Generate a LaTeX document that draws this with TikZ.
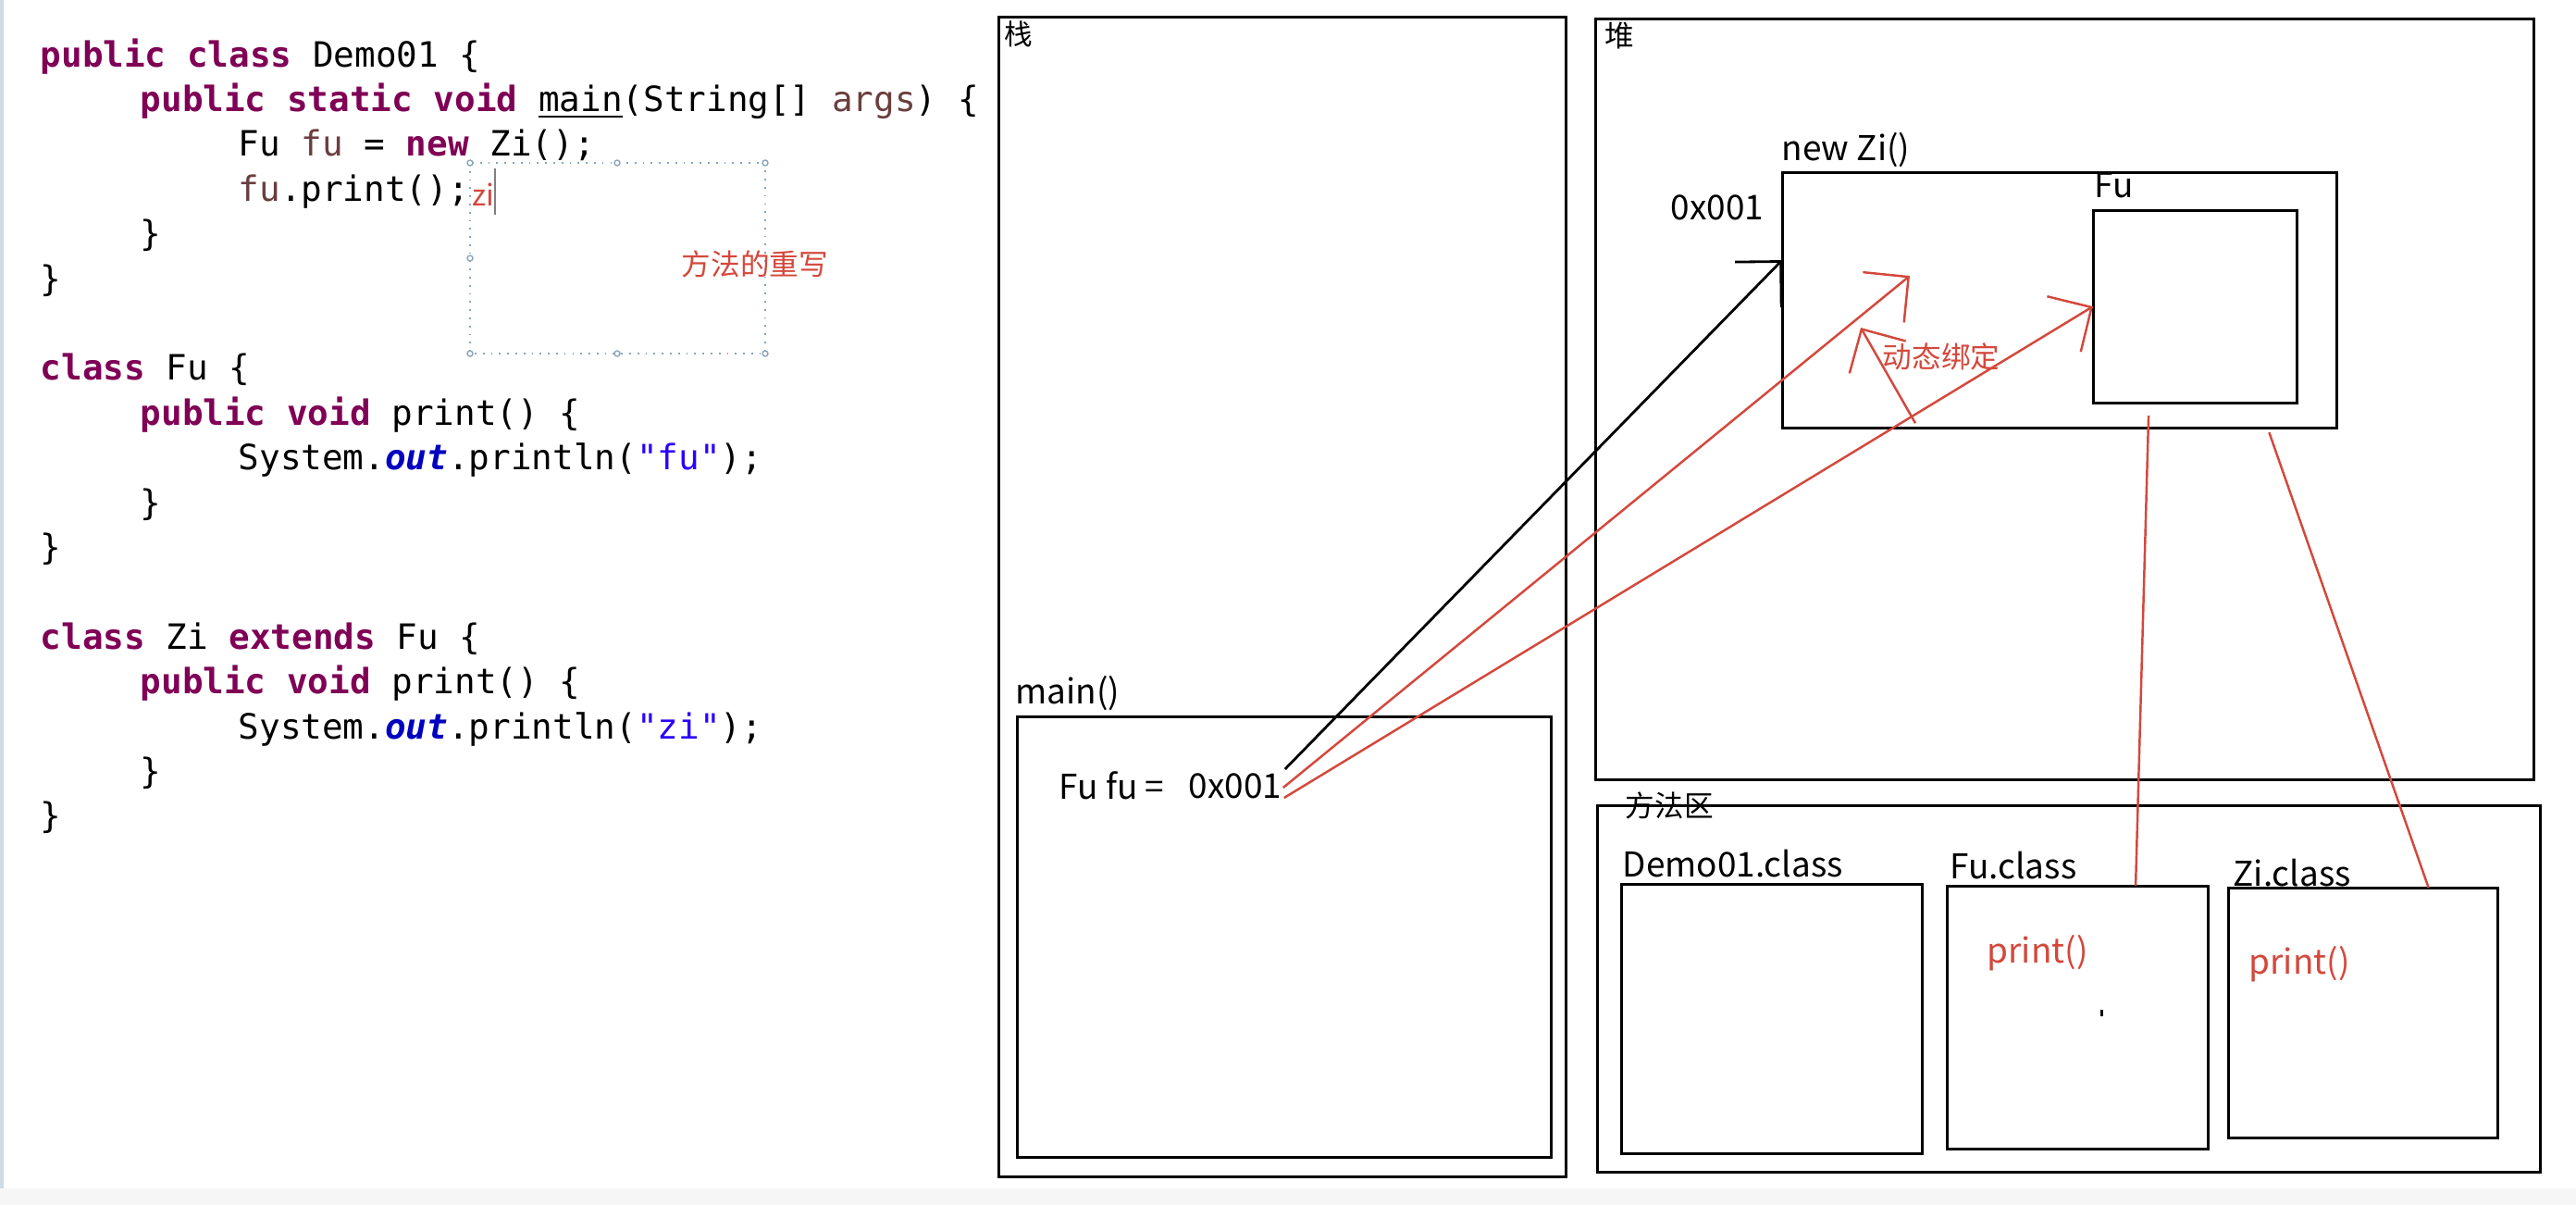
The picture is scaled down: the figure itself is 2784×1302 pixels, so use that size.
\documentclass[tikz,border=0pt]{standalone}
\usepackage{fontspec}
\setmonofont{DejaVu Sans Mono}
\newfontfamily\cjk{Noto Sans CJK SC}
\usetikzlibrary{arrows.meta,calc,positioning}
\definecolor{kwcol}{RGB}{127,0,85}
\definecolor{varcol}{RGB}{106,62,62}
\definecolor{fldcol}{RGB}{0,0,192}
\definecolor{strcol}{RGB}{42,0,255}
\definecolor{notered}{RGB}{212,72,60}
\definecolor{selcol}{RGB}{140,165,190}
\newcommand{\kw}[1]{\textcolor{kwcol}{\bfseries #1}}
\newcommand{\lv}[1]{\textcolor{varcol}{#1}}
\newcommand{\fld}[1]{\textcolor{fldcol}{\bfseries\itshape #1}}
\newcommand{\jstr}[1]{\textcolor{strcol}{#1}}
\tikzset{
  code/.style={anchor=base west, inner sep=0pt, font=\ttfamily\fontsize{10.7}{12}\selectfont},
  area/.style={draw, line width=0.85pt, anchor=north west, inner sep=0pt, outer sep=0pt},
  lbl/.style={anchor=west, inner sep=0pt, font=\cjk\fontsize{10.5}{12}\selectfont},
  zh/.style={anchor=west, inner sep=0pt, font=\cjk\fontsize{9}{11}\selectfont},
  refarrow/.style={line width=0.8pt, -{Straight Barb[length=3.5mm,width=7mm]}},
  bind/.style={refarrow, draw=notered, line width=0.7pt},
  bindline/.style={draw=notered, line width=0.7pt},
}

\begin{document}
\begin{tikzpicture}[x=0.01cm,y=-0.01cm]
\fill[white] (0,0) rectangle (2784,1302);
\useasboundingbox (0,0) rectangle (2784,1302);
\fill[gray!7] (0,1284) rectangle (2784,1302);
\fill[selcol!40] (0,0) rectangle (4,1284);

\node[code] (c1) at (43,72) {\kw{public class} Demo01 \{};
\node[code] (c2) at (151,120.4) {\kw{public static void} \underline{main}(String[] \lv{args}) \{};
\node[code] (c3) at (257,168.8) {Fu \lv{fu} = \kw{new} Zi();};
\node[code] (c4) at (257,217.2) {\lv{fu}.print();};
\node[code] (c5) at (151,265.6) {\}};
\node[code] (c6) at (43,314) {\}};
\node[code] (c8) at (43,410.8) {\kw{class} Fu \{};
\node[code] (c9) at (151,459.2) {\kw{public void} print() \{};
\node[code] (c10) at (257,507.6) {System.\fld{out}.println(\jstr{"fu"});};
\node[code] (c11) at (151,556) {\}};
\node[code] (c12) at (43,604.4) {\}};
\node[code] (c14) at (43,701.2) {\kw{class} Zi \kw{extends} Fu \{};
\node[code] (c15) at (151,749.6) {\kw{public void} print() \{};
\node[code] (c16) at (257,798) {System.\fld{out}.println(\jstr{"zi"});};
\node[code] (c17) at (151,846.4) {\}};
\node[code] (c18) at (43,894.8) {\}};

\draw[selcol, dotted, line width=0.5pt] (508,176) rectangle (827,382);
\foreach \p in {(508,176),(667,176),(827,176),(508,279),(508,382),(667,382),(827,382)}
  \draw[selcol, fill=white, line width=0.4pt] \p circle[radius=0.3mm];
\node[zh, text=notered] (zi) at (510,210) {zi};
\draw[gray, line width=0.4pt] (535,182) -- (535,232);
\node[zh, text=notered] (note) at (736,285) {方法的重写};

\node[area, minimum width=6.13cm, minimum height=12.53cm] (stack) at (1079,18) {};
\node[area, minimum width=10.14cm, minimum height=8.22cm] (heap) at (1724,20) {};
\node[area, minimum width=10.19cm, minimum height=3.96cm] (marea) at (1726,870) {};
\node[area, minimum width=5.77cm, minimum height=4.76cm] (mainfr) at (1099,774) {};
\node[area, minimum width=5.99cm, minimum height=2.76cm] (newzi) at (1926,186) {};
\node[area, minimum width=2.20cm, minimum height=2.08cm] (fuobj) at (2262,227) {};
\node[area, minimum width=3.25cm, minimum height=2.91cm] (democls) at (1752,955) {};
\node[area, minimum width=2.82cm, minimum height=2.84cm] (fucls) at (2104,957) {};
\node[area, minimum width=2.91cm, minimum height=2.70cm] (zicls) at (2408,959) {};

\node[zh, font=\cjk\fontsize{8.7}{10}\selectfont] (tstack) at (1085,37) {栈};
\node[zh] (theap) at (1734,39) {堆};
\node[lbl] (tmain) at (1097,749) {main()};
\node[lbl] (tfu) at (1144,849) {Fu fu =};
\node[lbl] (addr) at (1284,849) {0x001};
\node[lbl] (tnew) at (1925,162) {new Zi()};
\node[lbl] (haddr) at (1805,224) {0x001};
\node[lbl] (tfuobj) at (2263,200) {Fu};
\node[zh, text=notered] (tbind) at (2034,385) {动态绑定};
\node[zh] (tarea) at (1756,870) {方法区};
\node[lbl] (tdemo) at (1753,933) {Demo01.class};
\node[lbl] (tfucls) at (2107,935) {Fu.class};
\node[lbl] (tzicls) at (2413,943) {Zi.class};
\node[lbl, text=notered] (pfu) at (2147,1030) {print()};
\node[lbl, text=notered] (pzi) at (2430,1042) {print()};
\fill (2270,1091) rectangle (2273,1098);

\draw[refarrow] ($(addr.east)+(3,-18)$) -- ($(newzi.west)+(0,-43)$);
\draw[bind] ($(addr.east)+(1,2)$) -- ($(newzi.north west)+(138,112)$);
\draw[bind] ($(addr.east)+(2,13)$) -- (fuobj.west);
\draw[bind] ($(newzi.south west)+(144,-5)$) -- ($(newzi.north west)+(85,168)$);
\draw[bindline] ($(fuobj.south)+(-50,14)$) -- ($(fucls.north)+(63,0)$);
\draw[bindline] ($(newzi.south east)+(-73,5)$) -- ($(zicls.north)+(71,0)$);
\end{tikzpicture}
\end{document}
